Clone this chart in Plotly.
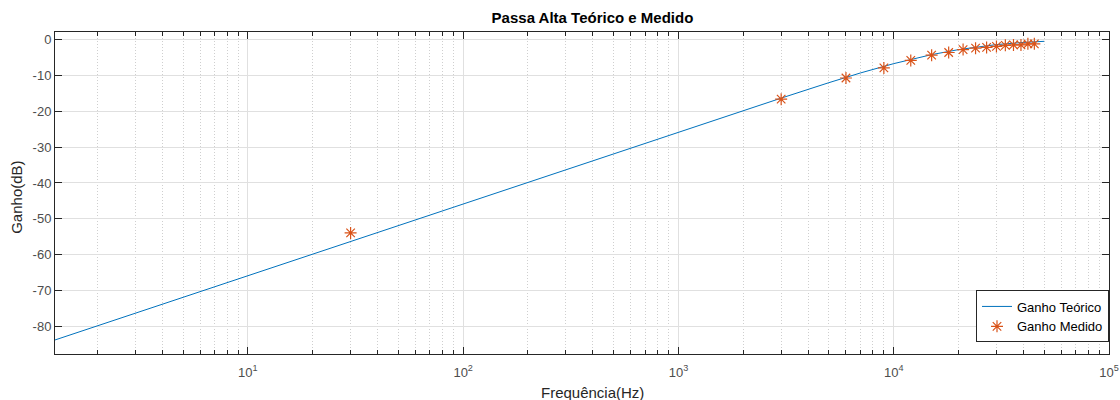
import plotly.graph_objects as go

# Theoretical gain curve
freq_teorico = [1.27, 10, 100, 1000, 2000, 3000, 5000, 7000, 10000, 15000, 20000, 30000, 40000, 50000]
ganho_teorico = [-83.7, -65.8, -45.8, -25.8, -19.8, -16.4, -12.1, -9.4, -6.8, -4.3, -2.9, -1.5, -0.9, -0.6]

# Measured gain
freq_medido = [30, 3000, 6000, 9000, 12000, 15000, 18000, 21000, 24000, 27000, 30000,
               33000, 36000, 39000, 42000, 45000]
ganho_medido = [-53.9, -16.7, -10.8, -8.0, -5.9, -4.45, -3.7, -2.9, -2.5, -2.3, -2.0,
                -1.7, -1.6, -1.6, -1.3, -1.3]

x_tickvals = [10, 100, 1000, 10000, 100000]
x_ticktext = ["10<sup>1</sup>", "10<sup>2</sup>", "10<sup>3</sup>", "10<sup>4</sup>", "10<sup>5</sup>"]
y_tickvals = [0, -10, -20, -30, -40, -50, -60, -70, -80]
y_ticktext = ["0", "-10", "-20", "-30", "-40", "-50", "-60", "-70", "-80"]

minor_vals = [m * 10 ** d for d in range(0, 5) for m in range(2, 10)]

FONT = "Liberation Sans, Arial, Helvetica, sans-serif"

fig = go.Figure()
fig.add_trace(go.Scatter(x=freq_teorico, y=ganho_teorico, mode="lines",
                         name="Ganho Teórico", line=dict(color="#0072BD", width=1)))
fig.add_trace(go.Scatter(x=freq_medido, y=ganho_medido, mode="markers",
                         name="Ganho Medido",
                         marker=dict(symbol="asterisk-open", size=10, color="#D95319",
                                     line=dict(color="#D95319", width=1.2))))

axis_font = dict(family=FONT, size=13, color="#4d4d4d")

fig.update_xaxes(type="log", range=[0.104, 5], tickvals=x_tickvals, ticktext=x_ticktext,
                 showgrid=True, gridcolor="#e0e0e0", gridwidth=1,
                 ticks="inside", ticklen=7, tickcolor="#262626", mirror="ticks",
                 showline=True, linecolor="#262626", linewidth=1,
                 tickfont=axis_font, zeroline=False, automargin=False,
                 ticklabelstandoff=6,
                 minor=dict(tickvals=minor_vals, showgrid=True, gridcolor="#cfcfcf",
                            griddash="1px,2px", gridwidth=1, ticks="inside", ticklen=4,
                            tickcolor="#262626"))
fig.update_yaxes(range=[-87.6, 2], tickvals=y_tickvals, ticktext=y_ticktext,
                 showgrid=True, gridcolor="#e0e0e0",
                 ticks="inside", ticklen=7, tickcolor="#262626", mirror="ticks",
                 showline=True, linecolor="#262626", linewidth=1,
                 tickfont=axis_font, zeroline=False, automargin=False)

fig.update_layout(
    width=1120, height=400,
    margin=dict(l=55, r=11, t=32, b=46),
    plot_bgcolor="white", paper_bgcolor="white",
    title=dict(text="<b>Passa Alta Teórico e Medido</b>", x=0.529, xanchor="center",
               xref="container", y=0.955, yanchor="middle",
               font=dict(family=FONT, size=15, color="#000000")),
    legend=dict(x=1, xanchor="right", y=0.1165, yanchor="middle",
                bordercolor="#262626", borderwidth=1, bgcolor="white",
                font=dict(family=FONT, size=13, color="#000000"),
                tracegroupgap=0),
    showlegend=True,
    annotations=[
        dict(text="Frequência(Hz)", xref="paper", yref="paper", x=0.5095, y=-0.121,
             xanchor="center", yanchor="middle", showarrow=False,
             font=dict(family=FONT, size=15, color="#262626")),
        dict(text="Ganho(dB)", xref="paper", yref="paper", x=-0.0361, y=0.488,
             xanchor="center", yanchor="middle", showarrow=False, textangle=-90,
             font=dict(family=FONT, size=15, color="#262626")),
    ],
)

fig.write_html("out.html", config={"displayModeBar": False},
               post_script="document.body.style.margin='0';document.body.style.overflow='hidden';")
